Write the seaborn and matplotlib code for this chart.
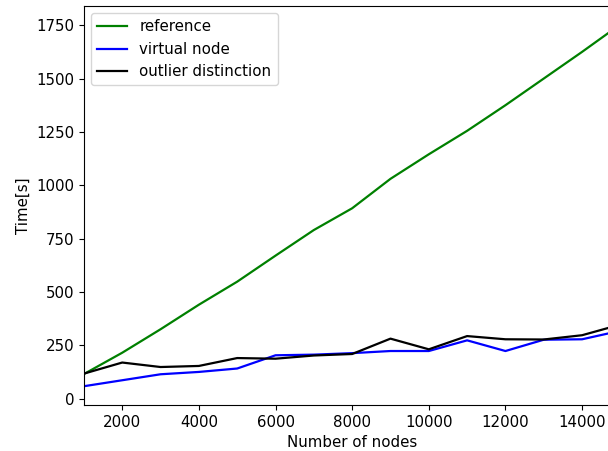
import matplotlib
matplotlib.use("Agg")
import matplotlib.pyplot as plt
import seaborn as sns
import pandas as pd

nodes = [1000, 2000, 3000, 4000, 5000, 6000, 7000, 8000, 9000, 10000,
         11000, 12000, 13000, 14000, 15000]
reference = [115, 215, 325, 440, 548, 670, 790, 892, 1030, 1145,
             1255, 1375, 1500, 1625, 1754]
virtual_node = [58, 86, 114, 125, 141, 203, 206, 213, 223, 223,
                273, 223, 276, 278, 318]
outlier_distinction = [117, 169, 148, 153, 190, 187, 202, 209, 281, 231,
                       293, 278, 277, 297, 347]

series_names = ["reference", "virtual node", "outlier distinction"]
series_colors = ["green", "blue", "black"]

plt.rcParams["font.size"] = 10.8
plt.rcParams["font.family"] = ["DejaVu Sans"]

fig = plt.figure(figsize=(6.08, 4.51), dpi=100)
ax = fig.add_axes([0.138, 0.102, 0.8824, 0.8847])

for name, vals, col in zip(series_names,
                           [reference, virtual_node, outlier_distinction],
                           series_colors):
    df = pd.DataFrame({"nodes": nodes, "time": vals})
    sns.lineplot(data=df, x="nodes", y="time", color=col, label=name, ax=ax,
                 linewidth=1.6)

ax.set_xlim(1000, 15000)
ax.set_ylim(-30, 1840)
ax.set_xticks([2000, 4000, 6000, 8000, 10000, 12000, 14000])
ax.set_yticks([0, 250, 500, 750, 1000, 1250, 1500, 1750])
ax.set_xlabel("Number of nodes")
ax.set_ylabel("Time[s]")
ax.legend(loc="upper left")

fig.savefig("out.png", dpi=100)
